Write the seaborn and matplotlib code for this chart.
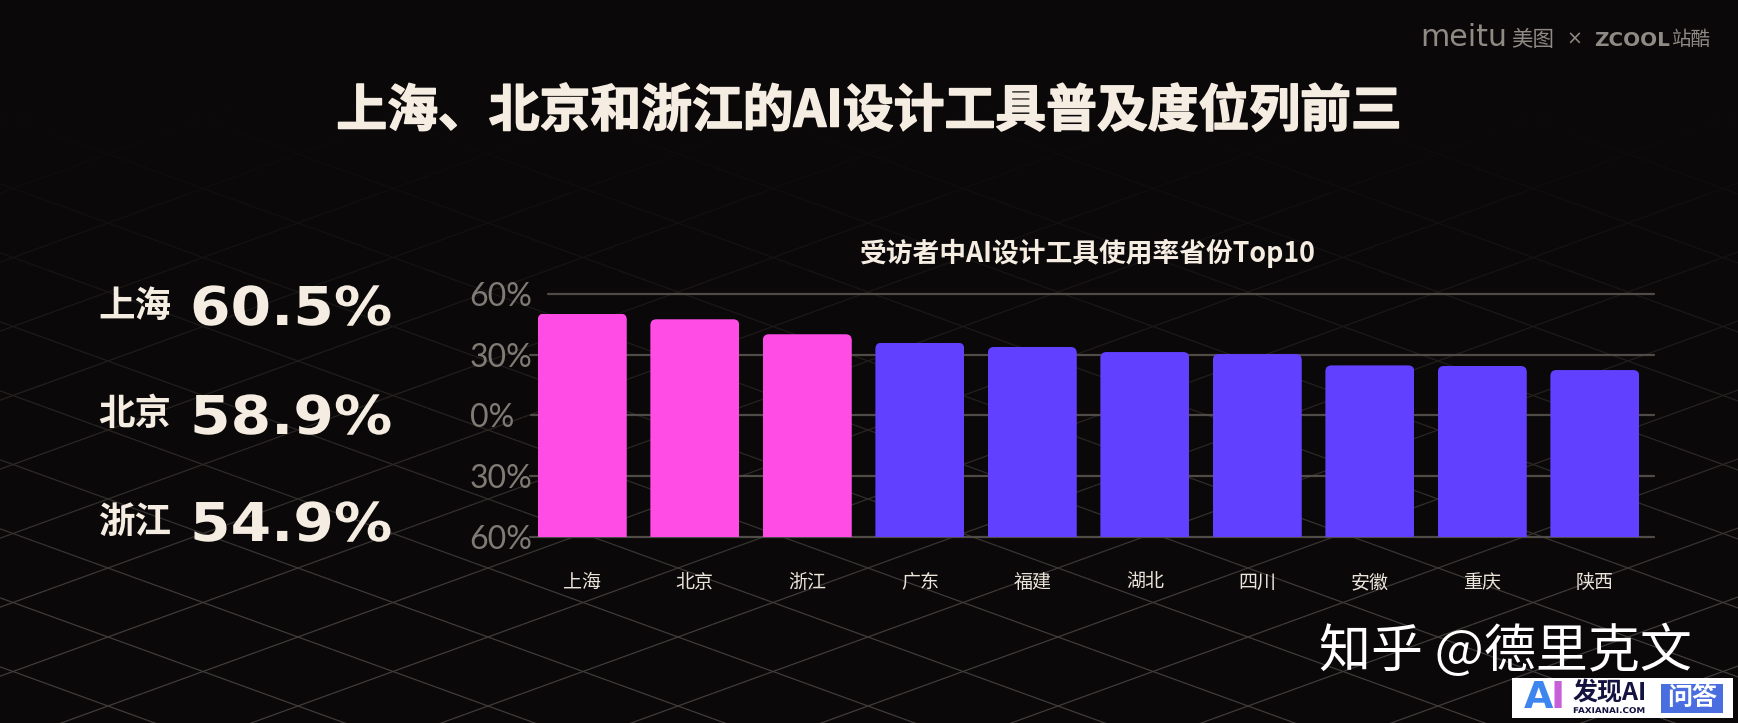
import numpy as np
import pandas as pd
import matplotlib
matplotlib.use("Agg")
import matplotlib.pyplot as plt
import matplotlib.patheffects as pe
import seaborn as sns
from matplotlib.collections import LineCollection
from matplotlib.patches import FancyBboxPatch, Rectangle
from matplotlib.transforms import Affine2D, IdentityTransform

# ---- data ----
provinces = ["上海", "北京", "浙江", "广东", "福建", "湖北", "四川", "安徽", "重庆", "陕西"]
# bars start at the bottom of the axis, so these are heights on a 0-120 scale
bar_heights = [110.3, 107.5, 100.1, 95.9, 93.8, 91.3, 90.3, 84.7, 84.4, 82.4]
tick_positions = [0, 30, 60, 90, 120]
tick_labels = ["60%", "30%", "0%", "30%", "60%"]
top_names = ["上海", "北京", "浙江"]
top_rates = ["60.5%", "58.9%", "54.9%"]

BG = "#0a0808"
PINK = "#ff4ce5"
PURPLE = "#6240ff"
CREAM = "#f5ece2"
GRID = "#4f4b46"
LOGO = "#8f8a84"
W, H = 1738, 723

sns.set_theme(style="dark")
plt.rcParams["font.family"] = ["Noto Sans CJK SC", "DejaVu Sans"]
plt.rcParams["axes.unicode_minus"] = False

fig = plt.figure(figsize=(W / 100, H / 100), dpi=100, facecolor=BG)


def pt(px):
    return px * 0.72


class Stretch(pe.AbstractPathEffect):
    # the original uses an extended typeface, so widen the glyphs horizontally
    def __init__(self, sx):
        super().__init__()
        self.sx = sx

    def draw_path(self, renderer, gc, tpath, affine, rgbFace=None):
        renderer.draw_path(gc, tpath, Affine2D().scale(self.sx, 1) + affine, rgbFace)


# ---- background layer in pixel coordinates ----
bg = fig.add_axes([0, 0, 1, 1], zorder=0)
bg.set_xlim(0, W)
bg.set_ylim(H, 0)
bg.axis("off")

# diamond lattice, fading out towards the top
bg_rgb = np.array(matplotlib.colors.to_rgb(BG))
line_rgb = np.array(matplotlib.colors.to_rgb("#3f3c39"))
segs, cols = [], []
xs = np.arange(-95, W + 190, 47.5)
for sign in (1, -1):
    for k in range(-20, 40):
        ys = 85 + 69 * k + sign * (34.5 / 95) * (xs - 108)
        for i in range(len(xs) - 1):
            mid = (ys[i] + ys[i + 1]) / 2
            if mid < -20 or mid > H + 20:
                continue
            t = np.clip((mid - 60) / 540, 0, 1) ** 1.5
            segs.append([(xs[i], ys[i]), (xs[i + 1], ys[i + 1])])
            cols.append(bg_rgb + (line_rgb - bg_rgb) * t)
bg.add_collection(LineCollection(segs, colors=cols, linewidths=0.9))

# ---- chart ----
ax_left, ax_right, ax_top, ax_bottom = 530, 1654, 294, 536.7
ax = fig.add_axes([ax_left / W, 1 - ax_bottom / H, (ax_right - ax_left) / W, (ax_bottom - ax_top) / H], zorder=1)
ax.set_facecolor("none")

df = pd.DataFrame({"province": provinces, "height": bar_heights})
palette = [PINK] * 3 + [PURPLE] * 7
sns.barplot(data=df, x="province", y="height", hue="province", palette=palette,
            legend=False, width=0.79, saturation=1, linewidth=0, ax=ax, zorder=3)

ax.set_xlim(-0.465, 9.526)
ax.set_ylim(0, 120)
ax.set_xlabel("")
ax.set_ylabel("")
ax.grid(False)
sns.despine(ax=ax, left=True, bottom=True)

# the lines start at slightly different x in the original
starts = [0.0, 0.0, 0.001, 0.0, 0.016]
for y, s in zip(tick_positions, starts):
    ax.axhline(y, xmin=s, xmax=1, color=GRID, lw=1.6, zorder=1, clip_on=False)

ax.set_yticks(tick_positions)
ax.set_yticklabels(tick_labels, family="Lato", fontsize=pt(32), color="#7f7b75", ha="left")
ax.tick_params(axis="y", length=0, pad=43.5)
ax.tick_params(axis="x", length=0, pad=37, labelsize=pt(19), labelcolor="#ece5dc")
for lab in ax.get_xticklabels():
    lab.set_verticalalignment("baseline")

# rounded top corners: clip each bar to a rounded box running past its base
fig.canvas.draw()
for bar in ax.patches:
    box = bar.get_window_extent()
    clip = FancyBboxPatch((box.x0, box.y0 - 20), box.width, box.height + 20,
                          boxstyle="round,pad=0,rounding_size=6", transform=IdentityTransform())
    bar.set_clip_path(clip)

# ---- text in pixel coordinates ----
title = bg.text(868.5, 112, "上海、北京和浙江的AI设计工具普及度位列前三", fontsize=pt(50.8), fontweight="black",
                color=CREAM, ha="center", va="center")
title.set_path_effects([pe.withStroke(linewidth=1.1, foreground=CREAM)])
fg = fig.add_axes([0, 0, 1, 1], zorder=2)
fg.set_xlim(0, W)
fg.set_ylim(H, 0)
fg.axis("off")
fg.text(1088, 253, "受访者中AI设计工具使用率省份Top10", fontsize=pt(26.8), fontweight="bold",
        color=CREAM, ha="center", va="center")

for name, rate, y in zip(top_names, top_rates, [306, 415, 522]):
    fg.text(135, y, name, fontsize=pt(36.5), fontweight="bold", color=CREAM, ha="center", va="center")
    txt = fg.text(190, y + 19, rate, family="DejaVu Sans", fontsize=pt(53.5), fontweight="bold", color=CREAM,
                  ha="left", va="baseline")
    txt.set_path_effects([Stretch(1.09)])

# top right logos
fg.text(1464, 38, "meitu", family="DejaVu Sans", fontsize=pt(30), color=LOGO, ha="center", va="center")
fg.text(1533, 39.5, "美图", fontsize=pt(21.5), color=LOGO, ha="center", va="center")
fg.text(1574, 39, "×", family="DejaVu Sans", fontsize=pt(19), color=LOGO, ha="center", va="center")
fg.text(1594, 46, "ZCOOL", family="DejaVu Sans", fontsize=pt(20), fontweight="bold", color=LOGO,
        ha="left", va="baseline")
fg.text(1691, 39.5, "站酷", fontsize=pt(19.5), color=LOGO, ha="center", va="center")

# watermarks
fg.text(1505, 652, "知乎 @德里克文", fontsize=pt(52), color="white", ha="center", va="center")
fg.add_patch(Rectangle((1512, 678), 221, 40, color="white", lw=0))
fg.add_patch(Rectangle((1661, 684), 62, 29, color="#4a6ee0", lw=0))
fg.text(1538, 698, "A", family="DejaVu Sans", fontsize=pt(38), fontweight="bold", color="#3d86f0",
        ha="center", va="center")
fg.text(1558, 698, "I", family="DejaVu Sans", fontsize=pt(38), fontweight="bold", color="#c65fd8",
        ha="center", va="center")
fg.text(1609.5, 693.5, "发现AI", fontsize=pt(25), fontweight="bold", color="#14133f", ha="center", va="center")
fa = fg.text(1573, 713, "FAXIANAI.COM", family="DejaVu Sans", fontsize=pt(8), fontweight="bold", color="#14133f",
             ha="left", va="baseline")
fa.set_path_effects([Stretch(1.1)])
fg.text(1692, 698, "问答", fontsize=pt(25), fontweight="bold", color="white", ha="center", va="center")

fig.savefig("out.png", dpi=100, facecolor=BG)
